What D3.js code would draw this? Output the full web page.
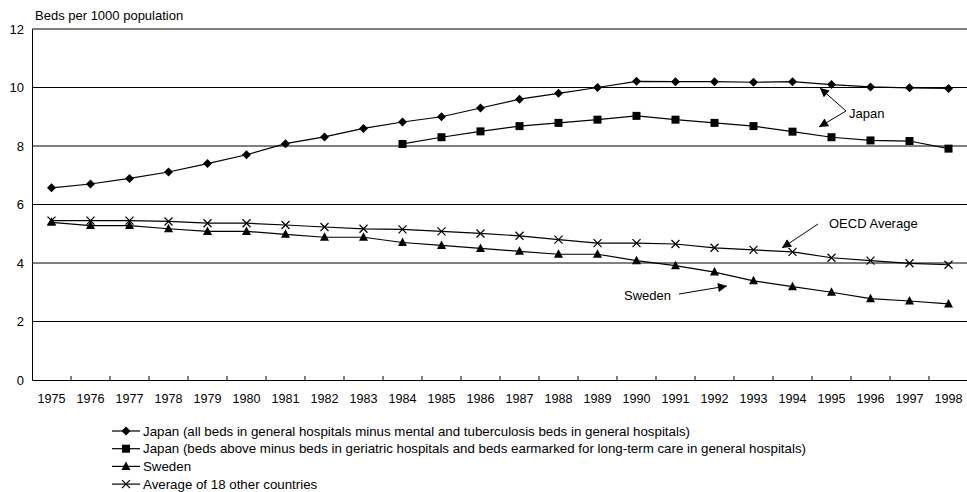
<!DOCTYPE html>
<html><head><meta charset="utf-8">
<script src="https://cdn.jsdelivr.net/npm/d3@7"></script>
<style>
body{margin:0;background:#fff;}
text{font-family:"Liberation Sans",Arial,sans-serif;font-size:13px;fill:#000;}
</style></head>
<body><svg id="c" width="967" height="492"></svg>
<script>
const years = [1975,1976,1977,1978,1979,1980,1981,1982,1983,1984,1985,1986,1987,1988,1989,1990,1991,1992,1993,1994,1995,1996,1997,1998];
const japanAll = [6.57,6.7,6.89,7.11,7.4,7.7,8.08,8.31,8.6,8.82,9.0,9.3,9.6,9.8,10.0,10.21,10.2,10.2,10.18,10.2,10.1,10.02,9.99,9.97];
const japanExcl = [null,null,null,null,null,null,null,null,null,8.07,8.3,8.5,8.68,8.79,8.9,9.03,8.9,8.79,8.68,8.49,8.3,8.19,8.17,7.91];
const sweden = [5.39,5.28,5.28,5.17,5.08,5.08,4.98,4.88,4.88,4.7,4.6,4.5,4.4,4.3,4.3,4.08,3.91,3.69,3.39,3.19,3.0,2.78,2.7,2.6];
const avg18 = [5.45,5.45,5.45,5.42,5.36,5.36,5.3,5.23,5.17,5.15,5.08,5.01,4.93,4.8,4.68,4.68,4.65,4.52,4.45,4.38,4.18,4.08,3.99,3.94];
const yTicks = [0,2,4,6,8,10,12];
const seriesNames = [
 "Japan (all beds in general hospitals minus mental and tuberculosis beds in general hospitals)",
 "Japan (beds above minus beds in geriatric hospitals and beds earmarked for long-term care in general hospitals)",
 "Sweden",
 "Average of 18 other countries"];
const yTitle = "Beds per 1000 population";

const series = [
 {name:seriesNames[0], values:japanAll, marker:"diamond"},
 {name:seriesNames[1], values:japanExcl, marker:"square"},
 {name:seriesNames[2], values:sweden, marker:"triangle"},
 {name:seriesNames[3], values:avg18, marker:"cross"}];

const svg = d3.select("#c");
const L=32, R=968, T=29, B=380;
const x = d3.scaleBand().domain(years).range([L,R]);
const y = d3.scaleLinear().domain([0,12]).range([B,T]);
const FONT = "Liberation Sans, Arial, sans-serif";

// gridlines
svg.append("g").selectAll("line").data(yTicks.filter(d=>d>0)).join("line")
 .attr("x1",L).attr("x2",R).attr("y1",d=>y(d)).attr("y2",d=>y(d))
 .attr("stroke","#000").attr("stroke-width",1);

// y axis
const ya = svg.append("g").attr("transform",`translate(${L},0)`)
 .call(d3.axisLeft(y).tickValues(yTicks).tickSize(0).tickPadding(8));
ya.select(".domain").attr("stroke","#000");
ya.selectAll("text").style("font-family",FONT).style("font-size","13px");

// x axis: ticks between categories, pointing upward
const xa = svg.append("g").attr("transform",`translate(0,${B})`)
 .call(d3.axisBottom(x).tickSize(0).tickPadding(14.5));
xa.select(".domain").attr("stroke","#000");
xa.selectAll("text").style("font-family",FONT).style("font-size","12.6px");
svg.append("g").selectAll("line").data(years.slice(1)).join("line")
 .attr("x1",d=>x(d)).attr("x2",d=>x(d)).attr("y1",B).attr("y2",B-4)
 .attr("stroke","#000");

svg.append("text").attr("x",35).attr("y",20).text(yTitle);

const cx = d=>x(d)+x.bandwidth()/2;
const line = d3.line().defined(d=>d.v!=null).x(d=>cx(d.year)).y(d=>y(d.v));

function drawMarker(g, type, px, py){
 if(type==="diamond"){
  g.append("path").attr("d",`M${px},${py-4.5}L${px+4.5},${py}L${px},${py+4.5}L${px-4.5},${py}Z`).attr("fill","#000");
 } else if(type==="square"){
  g.append("rect").attr("x",px-4).attr("y",py-4).attr("width",8).attr("height",8).attr("fill","#000");
 } else if(type==="triangle"){
  g.append("path").attr("d",`M${px},${py-5}L${px+4.5},${py+3.5}L${px-4.5},${py+3.5}Z`).attr("fill","#000");
 } else {
  g.append("path").attr("d",`M${px-4},${py-4}L${px+4},${py+4}M${px+4},${py-4}L${px-4},${py+4}`).attr("stroke","#000").attr("stroke-width",1.2).attr("fill","none");
 }
}

series.forEach(s=>{
 const pts = years.map((yr,i)=>({year:yr,v:s.values[i]}));
 const g = svg.append("g");
 g.append("path").datum(pts).attr("d",line).attr("fill","none").attr("stroke","#000").attr("stroke-width",1.2);
 pts.filter(p=>p.v!=null).forEach(p=>drawMarker(g,s.marker,cx(p.year),y(p.v)));
});

// annotations
svg.append("defs").append("marker").attr("id","ah").attr("viewBox","0 0 10 10")
 .attr("refX",10).attr("refY",5).attr("markerWidth",11).attr("markerHeight",9)
 .attr("markerUnits","userSpaceOnUse").attr("orient","auto")
 .append("path").attr("d","M0,0L10,5L0,10Z").attr("fill","#000");
function arrow(x1,y1,x2,y2){
 svg.append("line").attr("x1",x1).attr("y1",y1).attr("x2",x2).attr("y2",y2)
  .attr("stroke","#000").attr("stroke-width",1).attr("marker-end","url(#ah)");
}
// Japan
arrow(846,111,820,88);
arrow(846,111,819,127);
svg.append("text").attr("x",849).attr("y",118).text("Japan");
// OECD Average
arrow(818,224,782,248);
svg.append("text").attr("x",829).attr("y",228).text("OECD Average");
// Sweden
arrow(679,294,727,286);
svg.append("text").attr("x",624).attr("y",300).text("Sweden");

// legend
const lg = svg.append("g");
series.forEach((s,i)=>{
 const ly = 431 + i*17.7;
 lg.append("line").attr("x1",112).attr("x2",140).attr("y1",ly).attr("y2",ly).attr("stroke","#000").attr("stroke-width",1.2);
 drawMarker(lg,s.marker,126,ly);
 lg.append("text").attr("x",143).attr("y",ly+4.7).style("font-size","13.3px").text(s.name);
});
</script></body></html>
